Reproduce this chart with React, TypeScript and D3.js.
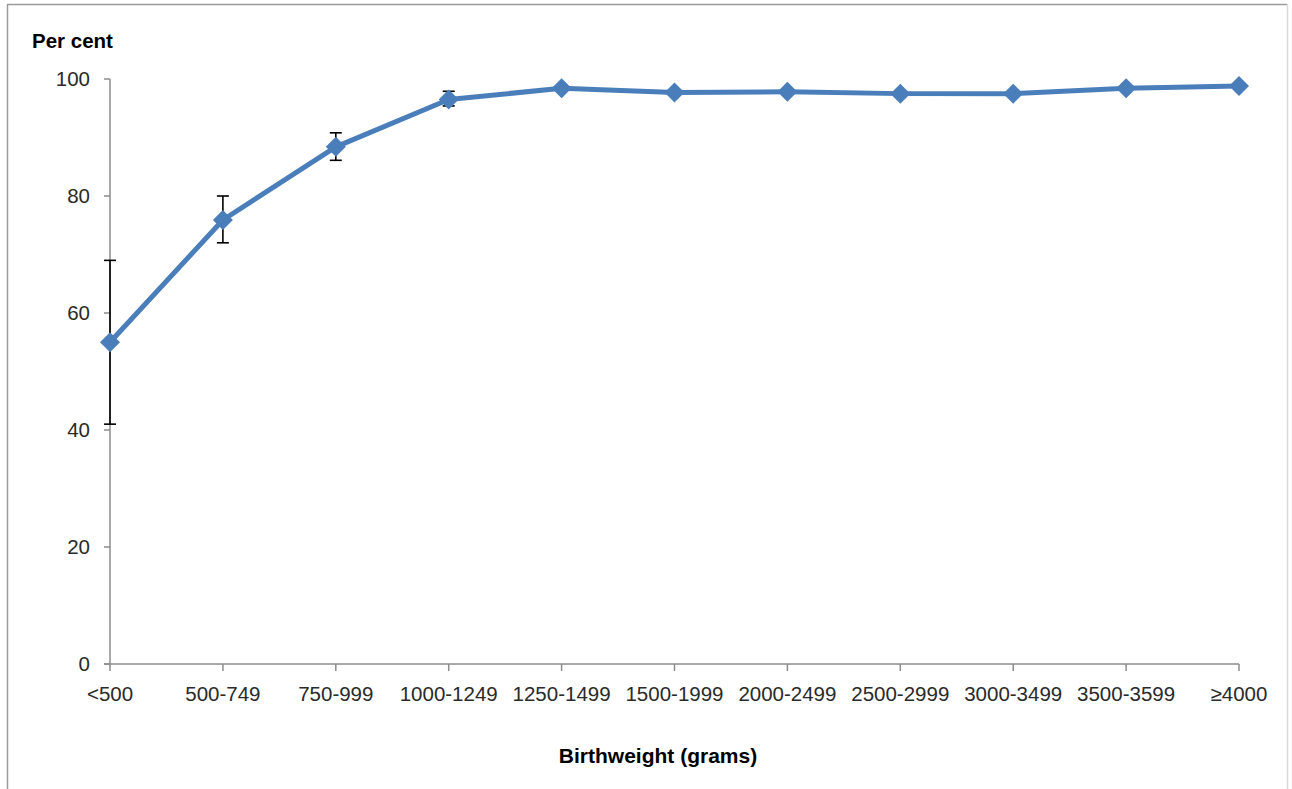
import React from "react";
import * as d3 from "d3";

const categories = [
  "<500", "500-749", "750-999", "1000-1249", "1250-1499", "1500-1999",
  "2000-2499", "2500-2999", "3000-3499", "3500-3599", "\u22654000",
];
const values = [55.0, 75.9, 88.4, 96.5, 98.4, 97.7, 97.8, 97.5, 97.5, 98.4, 98.8];
const errLow = [41.0, 72.0, 86.1, 95.4, 98.0, 97.4, 97.5, 97.2, 97.2, 98.1, 98.5];
const errHigh = [69.0, 80.0, 90.8, 97.9, 98.8, 98.0, 98.1, 97.8, 97.8, 98.7, 99.1];
const yTicks = [0, 20, 40, 60, 80, 100];

const W = 1292;
const H = 789;
const plot = { left: 110, right: 1239, top: 79, bottom: 664 };
const blue = "#4a7ebb";
const font = "'Liberation Sans', Arial, sans-serif";

export default function App() {
  const x = d3.scalePoint<string>().domain(categories).range([plot.left, plot.right]).padding(0);
  const y = d3.scaleLinear().domain([0, 100]).range([plot.bottom, plot.top]);

  const line = d3
    .line<number>()
    .x((_d, i) => x(categories[i]) as number)
    .y((d) => y(d));

  const diamond = (cx: number, cy: number, r: number) =>
    `M${cx},${cy - r}L${cx + r},${cy}L${cx},${cy + r}L${cx - r},${cy}Z`;

  return (
    <svg
      width={W}
      height={H}
      style={{ position: "absolute", left: 0, top: 0, background: "#fff" }}
      fontFamily={font}
    >
      {/* chart frame */}
      <line x1={7.5} y1={4.5} x2={7.5} y2={H} stroke="#9a9a9a" strokeWidth={1.5} />
      <line x1={7} y1={4.5} x2={1287} y2={4.5} stroke="#9a9a9a" strokeWidth={1.5} />
      <line x1={1287.5} y1={4} x2={1287.5} y2={H} stroke="#d9d9d9" strokeWidth={1.5} />

      <text x={32} y={48} fontSize={20.5} fontWeight="bold" fill="#000">
        Per cent
      </text>

      {/* y axis */}
      <line x1={plot.left} y1={plot.top} x2={plot.left} y2={plot.bottom} stroke="#8c8c8c" strokeWidth={1.5} />
      {yTicks.map((t) => (
        <g key={t}>
          <line x1={plot.left - 6} y1={y(t)} x2={plot.left} y2={y(t)} stroke="#8c8c8c" strokeWidth={1.5} />
          <text x={plot.left - 20} y={y(t)} dy="0.35em" textAnchor="end" fontSize={20.5} fill="#2a2a2a">
            {t}
          </text>
        </g>
      ))}

      {/* x axis */}
      <line x1={plot.left - 6} y1={plot.bottom} x2={plot.right} y2={plot.bottom} stroke="#8c8c8c" strokeWidth={1.5} />
      {categories.map((c) => (
        <g key={c}>
          <line x1={x(c)} y1={plot.bottom} x2={x(c)} y2={plot.bottom + 7} stroke="#8c8c8c" strokeWidth={1.5} />
          <text x={x(c)} y={plot.bottom + 37} textAnchor="middle" fontSize={20.5} fill="#2a2a2a">
            {c}
          </text>
        </g>
      ))}

      <text x={658} y={763} textAnchor="middle" fontSize={21} fontWeight="bold" fill="#000">
        Birthweight (grams)
      </text>

      {/* error bars */}
      {categories.map((c, i) => {
        const cx = x(c) as number;
        return (
          <g key={"e" + c} stroke="#000" strokeWidth={1.6}>
            <line x1={cx} y1={y(errLow[i])} x2={cx} y2={y(errHigh[i])} />
            <line x1={cx - 6} y1={y(errLow[i])} x2={cx + 6} y2={y(errLow[i])} />
            <line x1={cx - 6} y1={y(errHigh[i])} x2={cx + 6} y2={y(errHigh[i])} />
          </g>
        );
      })}

      <path d={line(values) ?? ""} fill="none" stroke={blue} strokeWidth={5} strokeLinejoin="round" />
      {values.map((v, i) => (
        <path key={"m" + i} d={diamond(x(categories[i]) as number, y(v), 10)} fill={blue} />
      ))}
    </svg>
  );
}
